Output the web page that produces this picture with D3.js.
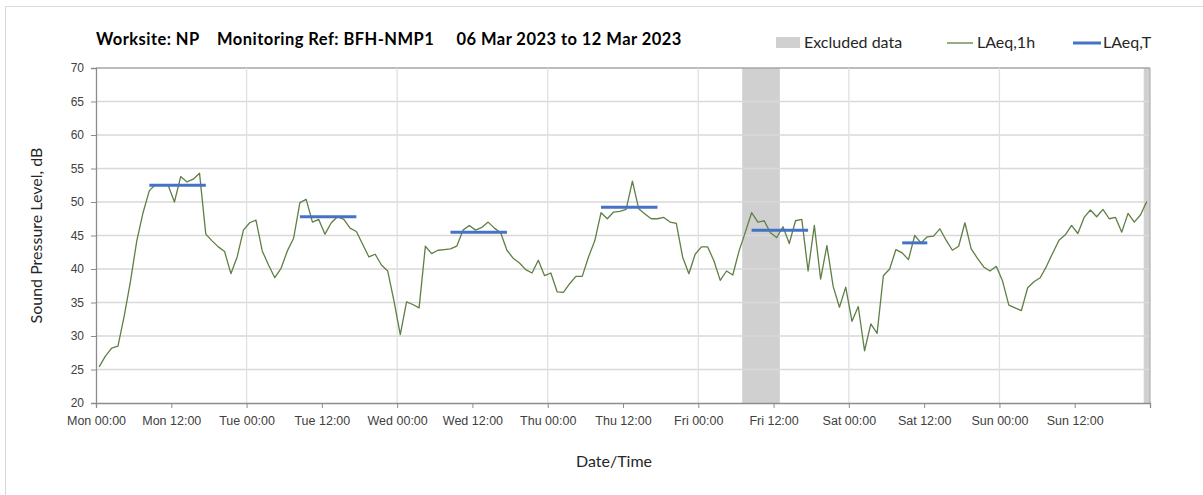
<!DOCTYPE html>
<html>
<head>
<meta charset="utf-8">
<script src="https://d3js.org/d3.v7.min.js"></script>
<style>
  html, body { margin: 0; padding: 0; background: #fff; }
  svg { display: block; font-family: Lato, "Open Sans", sans-serif; }
</style>
</head>
<body>
<svg id="chart" width="1203" height="495"></svg>
<script>
// Hourly LAeq,1h values (dB), Mon 00:00 .. Sun 23:00, one per hour
const laeq1h = [
  25.4, 27.0, 28.2, 28.5, 33.0, 38.2, 44.2, 48.4, 51.7, 52.6, 52.5, 52.5, 50.0, 53.8, 53.0, 53.4, 54.3, 45.2, 44.2, 43.3, 42.6, 39.3, 41.8, 45.8,
  46.9, 47.3, 42.7, 40.6, 38.7, 40.1, 42.7, 44.6, 49.9, 50.4, 47.0, 47.4, 45.2, 46.9, 47.8, 47.4, 46.1, 45.6, 43.7, 41.8, 42.2, 40.6, 39.7, 35.2,
  30.2, 35.1, 34.7, 34.2, 43.4, 42.3, 42.8, 42.9, 43.0, 43.4, 45.8, 46.5, 45.8, 46.2, 47.0, 46.1, 45.4, 42.8, 41.6, 40.9, 39.9, 39.4, 41.3, 39.0,
  39.4, 36.6, 36.5, 37.8, 38.9, 38.9, 41.8, 44.2, 48.4, 47.5, 48.5, 48.6, 48.9, 53.1, 49.0, 48.2, 47.5, 47.5, 47.7, 47.0, 46.8, 41.8, 39.3, 42.2,
  43.3, 43.3, 41.2, 38.3, 39.7, 39.1, 42.7, 45.5, 48.4, 47.0, 47.2, 45.4, 44.7, 46.3, 43.8, 47.2, 47.4, 39.7, 46.5, 38.5, 43.5, 37.4, 34.3, 37.3,
  32.2, 34.4, 27.8, 31.8, 30.4, 39.0, 40.0, 42.9, 42.4, 41.4, 45.0, 43.9, 44.8, 44.9, 46.0, 44.3, 42.8, 43.4, 46.9, 43.0, 41.6, 40.3, 39.7, 40.4,
  38.2, 34.6, 34.2, 33.8, 37.2, 38.1, 38.7, 40.4, 42.4, 44.3, 45.1, 46.5, 45.3, 47.7, 48.8, 47.8, 48.9, 47.5, 47.7, 45.5, 48.3, 47.0, 48.1, 50.1
];

// LAeq,T over each working period (first and last hour index, value in dB)
const periodStart = [8, 32, 56, 80, 104, 128];
const periodEnd   = [17, 41, 65, 89, 113, 132];
const laeqT       = [52.5, 47.8, 45.5, 49.2, 45.8, 43.9];

// Excluded periods (hour offsets from Mon 00:00)
const excludedStart = [103, 167];
const excludedEnd   = [109, 168];

// Axis ticks
const xTickHours  = [0, 12, 24, 36, 48, 60, 72, 84, 96, 108, 120, 132, 144, 156, 168];
const xTickLabels = ["Mon 00:00", "Mon 12:00", "Tue 00:00", "Tue 12:00", "Wed 00:00", "Wed 12:00",
                     "Thu 00:00", "Thu 12:00", "Fri 00:00", "Fri 12:00", "Sat 00:00", "Sat 12:00",
                     "Sun 00:00", "Sun 12:00", ""];
const yTicks = [20, 25, 30, 35, 40, 45, 50, 55, 60, 65, 70];

const titleText = "Worksite: NP\u00a0\u00a0\u00a0\u00a0Monitoring Ref: BFH-NMP1\u00a0\u00a0\u00a0\u00a0\u00a006 Mar 2023 to 12 Mar 2023";

const svg = d3.select("#chart");
const plot = { left: 96, right: 1150, top: 68, bottom: 403 };

const x = d3.scaleLinear().domain([0, 168]).range([plot.left, plot.right]);
const y = d3.scaleLinear().domain([20, 70]).range([plot.bottom, plot.top]);

// outer frame edges
svg.append("line").attr("x1", 5.5).attr("x2", 5.5).attr("y1", 6).attr("y2", 495)
  .attr("stroke", "#d9d9d9").attr("stroke-width", 1);
svg.append("line").attr("x1", 5.5).attr("x2", 1203).attr("y1", 6.5).attr("y2", 6.5)
  .attr("stroke", "#d9d9d9").attr("stroke-width", 1);

// excluded-data bands
svg.append("g").selectAll("rect")
  .data(excludedStart.map((s, i) => ({ s, e: excludedEnd[i] })))
  .join("rect")
  .attr("x", d => x(d.s)).attr("width", d => x(d.e) - x(d.s))
  .attr("y", plot.top).attr("height", plot.bottom - plot.top)
  .attr("fill", "#d0d0d0");

// horizontal gridlines
svg.append("g").selectAll("line")
  .data(yTicks.filter(v => v > 20))
  .join("line")
  .attr("x1", plot.left).attr("x2", plot.right)
  .attr("y1", d => y(d)).attr("y2", d => y(d))
  .attr("stroke", d => d === 70 ? "#a6a6a6" : "#d9d9d9").attr("stroke-width", 1.3);

// vertical gridlines at midnight
svg.append("g").selectAll("line")
  .data(xTickHours.filter(h => h > 0 && h < 168 && h % 24 === 0))
  .join("line")
  .attr("x1", d => x(d)).attr("x2", d => x(d))
  .attr("y1", plot.top).attr("y2", plot.bottom)
  .attr("stroke", "#e0e0e0").attr("stroke-width", 1.3);

// right edge of plot area
svg.append("line").attr("x1", plot.right).attr("x2", plot.right)
  .attr("y1", plot.top).attr("y2", plot.bottom)
  .attr("stroke", "#a6a6a6").attr("stroke-width", 1);

// y axis
const yAxis = d3.axisLeft(y).tickValues(yTicks).tickSize(5).tickPadding(7).tickFormat(d3.format("d"));
const gy = svg.append("g").attr("transform", `translate(${plot.left},0)`).call(yAxis);
gy.select(".domain").attr("stroke", "#8c8c8c").attr("stroke-width", 1.3);
gy.selectAll(".tick line").attr("stroke", "#8c8c8c");
gy.selectAll("text").attr("fill", "#404040").style("font-size", "12px");

// x axis
const xAxis = d3.axisBottom(x).tickValues(xTickHours).tickSize(5).tickPadding(8)
  .tickFormat((d, i) => xTickLabels[i]);
const gx = svg.append("g").attr("transform", `translate(0,${plot.bottom})`).call(xAxis);
gx.select(".domain").attr("stroke", "#8c8c8c").attr("stroke-width", 1.3);
gx.selectAll(".tick line").attr("stroke", "#8c8c8c");
gx.selectAll("text").attr("fill", "#404040").style("font-size", "12.5px");

// LAeq,1h line (values plotted at the middle of each hour)
const line = d3.line().x((d, i) => x(i + 0.5)).y(d => y(d));
svg.append("path").datum(laeq1h)
  .attr("d", line).attr("fill", "none")
  .attr("stroke", "#5e7f45").attr("stroke-width", 1.3).attr("stroke-linejoin", "round");

// LAeq,T period lines
svg.append("g").selectAll("line")
  .data(laeqT.map((v, i) => ({ v, s: periodStart[i], e: periodEnd[i] })))
  .join("line")
  .attr("x1", d => x(d.s + 0.5)).attr("x2", d => x(d.e + 0.5))
  .attr("y1", d => y(d.v)).attr("y2", d => y(d.v))
  .attr("stroke", "#4472c4").attr("stroke-width", 3);

// title
svg.append("text").attr("x", 96).attr("y", 45)
  .attr("font-weight", "bold").attr("font-size", "16.5px").attr("letter-spacing", "0.45px").attr("fill", "#000")
  .text(titleText);

// legend
const lg = svg.append("g");
lg.append("rect").attr("x", 776).attr("y", 37).attr("width", 24).attr("height", 11).attr("fill", "#d0d0d0");
lg.append("text").attr("x", 804).attr("y", 48).attr("font-size", "16px").attr("fill", "#262626").text("Excluded data");
lg.append("line").attr("x1", 947).attr("x2", 973).attr("y1", 43).attr("y2", 43).attr("stroke", "#5e7f45").attr("stroke-width", 1.3);
lg.append("text").attr("x", 977).attr("y", 48).attr("font-size", "16px").attr("fill", "#262626").text("LAeq,1h");
lg.append("line").attr("x1", 1073).attr("x2", 1101).attr("y1", 43).attr("y2", 43).attr("stroke", "#4472c4").attr("stroke-width", 3);
lg.append("text").attr("x", 1103).attr("y", 48).attr("font-size", "16px").attr("fill", "#262626").text("LAeq,T");

// axis titles
svg.append("text").attr("transform", `translate(42,${(plot.top + plot.bottom) / 2}) rotate(-90)`)
  .attr("text-anchor", "middle").attr("font-size", "16px").attr("fill", "#262626")
  .text("Sound Pressure Level, dB");
svg.append("text").attr("x", 614).attr("y", 467)
  .attr("text-anchor", "middle").attr("font-size", "16px").attr("fill", "#262626")
  .text("Date/Time");
</script>
</body>
</html>
